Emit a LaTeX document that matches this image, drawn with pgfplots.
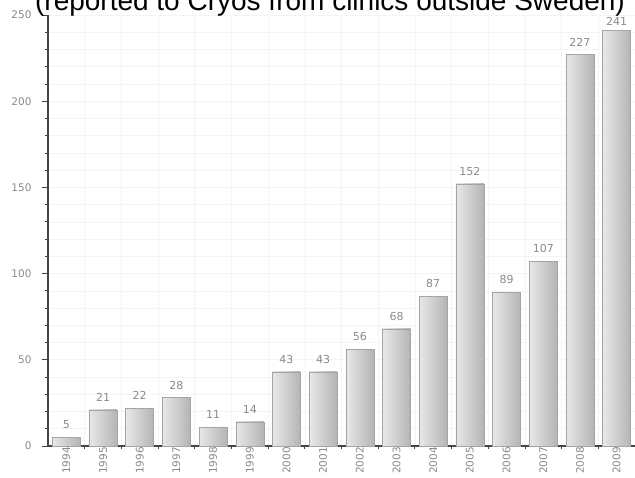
\documentclass[border=0pt]{standalone}
\usepackage{fontspec}
\setmainfont{DejaVu Sans}
\newfontfamily\titlefont{Liberation Sans}
\usepackage{pgfplots}
\usepackage{pgfplotstable}
\pgfplotsset{compat=1.18}

\definecolor{axisgray}{HTML}{444444}
\definecolor{labelgray}{HTML}{8A8A8A}
\definecolor{barlight}{HTML}{E8E8E8}
\definecolor{bardark}{HTML}{B4B4B4}
\definecolor{baredge}{HTML}{A4A4A4}
\definecolor{gridgray}{HTML}{F4F4F4}

% yearly counts reported from clinics outside Sweden
\pgfplotstableread{
idx year count
0  1994 5
1  1995 21
2  1996 22
3  1997 28
4  1998 11
5  1999 14
6  2000 43
7  2001 43
8  2002 56
9  2003 68
10 2004 87
11 2005 152
12 2006 89
13 2007 107
14 2008 227
15 2009 241
}\yearly

\begin{document}
\begin{tikzpicture}
\begin{axis}[
  scale only axis,
  width=587pt, height=431pt,
  xmin=-0.5, xmax=15.5,
  ymin=0, ymax=250,
  axis x line*=bottom, axis y line*=left,
  axis line style={axisgray, line width=1.6pt},
  /pgf/number format/assume math mode=true,
  tick align=outside,
  tick style={axisgray, line width=0.8pt},
  major tick length=6pt,
  minor tick length=3pt,
  xtick={0,...,15},
  xticklabels={1994,1995,1996,1997,1998,1999,2000,2001,2002,2003,2004,2005,2006,2007,2008,2009},
  major x tick style={draw=none},
  minor xtick={0.5,1.5,...,14.5},
  x tick label style={yshift=6pt, rotate=90, anchor=east, inner sep=1pt,
    font=\fontsize{10.5}{12}\selectfont, text=labelgray},
  ytick={0,50,...,250},
  minor y tick num=4,
  y tick label style={xshift=-7pt, font=\fontsize{10.5}{12}\selectfont, text=labelgray},
  xminorgrids=true, yminorgrids=true, ymajorgrids=true,
  grid style={gridgray, line width=0.6pt},
  minor grid style={gridgray, line width=0.6pt},
  clip=false,
]
% one bar per year, so that each bar carries its own left-to-right shading
\pgfplotsinvokeforeach{0,...,15}{
  \addplot[ybar, bar width=28pt, draw=baredge, line width=0.5pt,
    left color=barlight, right color=bardark,
    restrict x to domain=#1:#1]
    table[x=idx, y=count]{\yearly};
}
% value labels; the last one sits a little closer to its bar
\addplot[draw=none, mark=none, nodes near coords, restrict x to domain=0:14,
  every node near coord/.append style={anchor=south, yshift=5pt,
    font=\fontsize{11}{12}\selectfont, text=labelgray}]
  table[x=idx, y=count]{\yearly};
\addplot[draw=none, mark=none, nodes near coords, restrict x to domain=15:15,
  every node near coord/.append style={anchor=south, yshift=1pt,
    font=\fontsize{11}{12}\selectfont, text=labelgray}]
  table[x=idx, y=count]{\yearly};
\coordinate (bl) at (rel axis cs:0,0);
\coordinate (tl) at (rel axis cs:0,1);
\coordinate (tr) at (rel axis cs:1,1);
\end{axis}
\node[anchor=base, font=\titlefont\fontsize{28}{30}\selectfont]
  at ([shift={(282pt,4pt)}]tl) {(reported to Cryos from clinics outside Sweden)};
\pgfresetboundingbox
\path[use as bounding box] ([shift={(-48pt,-32pt)}]bl) rectangle ([shift={(0pt,15pt)}]tr);
\end{tikzpicture}
\end{document}
